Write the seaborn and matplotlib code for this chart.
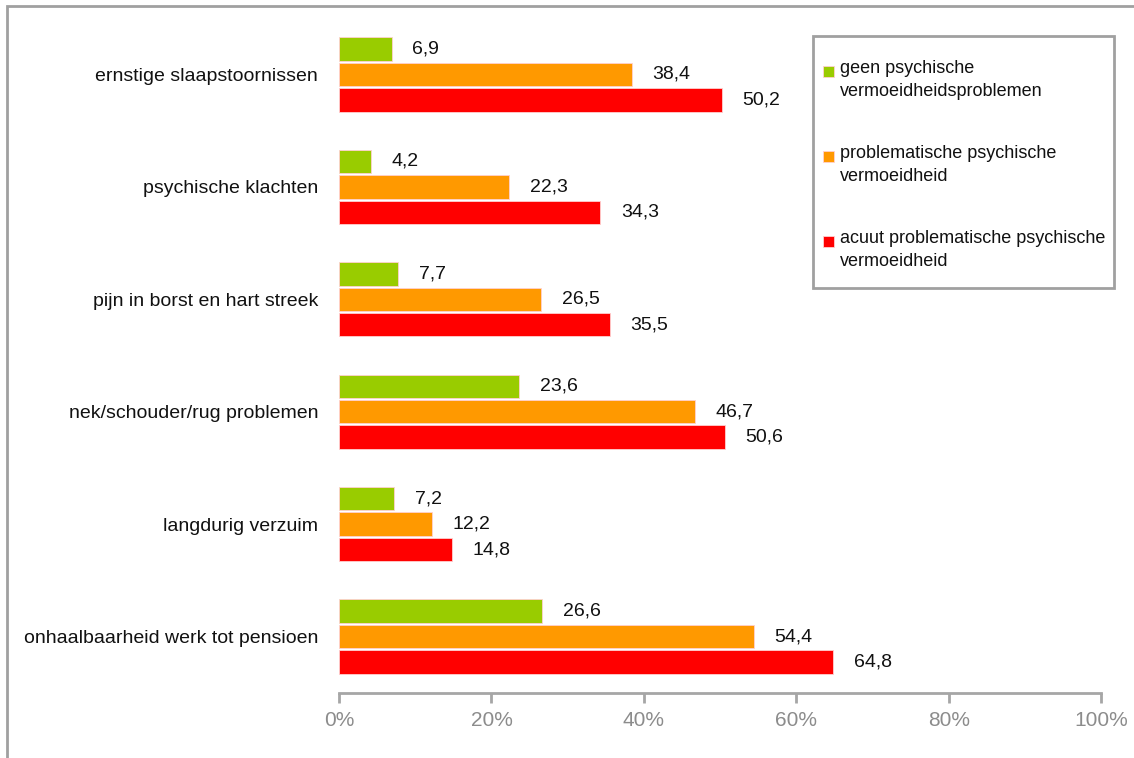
import pandas as pd
import numpy as np
import matplotlib
matplotlib.use("Agg")
import matplotlib.pyplot as plt
from matplotlib.patches import Rectangle
from matplotlib.legend_handler import HandlerPatch
import seaborn as sns

# ----------------------------
# Data
# ----------------------------
categories = [
    "ernstige slaapstoornissen",
    "psychische klachten",
    "pijn in borst en hart streek",
    "nek/schouder/rug problemen",
    "langdurig verzuim",
    "onhaalbaarheid werk tot pensioen",
]
groups = [
    "geen psychische\nvermoeidheidsproblemen",
    "problematische psychische\nvermoeidheid",
    "acuut problematische psychische\nvermoeidheid",
]
geen = [6.9, 4.2, 7.7, 23.6, 7.2, 26.6]
problematisch = [38.4, 22.3, 26.5, 46.7, 12.2, 54.4]
acuut = [50.2, 34.3, 35.5, 50.6, 14.8, 64.8]
colors = ["#99CC00", "#FF9900", "#FF0000"]
x_ticks = [0, 20, 40, 60, 80, 100]

df = pd.DataFrame({
    "categorie": categories * 3,
    "groep": [groups[0]] * 6 + [groups[1]] * 6 + [groups[2]] * 6,
    "waarde": geen + problematisch + acuut,
})

# ----------------------------
# Style
# ----------------------------
sns.set_style("white")
plt.rcParams["font.family"] = ["Liberation Sans Narrow", "Liberation Sans", "DejaVu Sans"]

fig = plt.figure(figsize=(11.34, 7.58), dpi=100)
ax = fig.add_axes([0.299, 0.086, 0.672, 0.89])

sns.barplot(
    data=df, y="categorie", x="waarde", hue="groep",
    order=categories, hue_order=groups, palette=colors,
    orient="h", width=0.68, gap=0.08, saturation=1,
    edgecolor="#ffd0d0", linewidth=0.6, ax=ax,
)

# value labels
for cont in ax.containers:
    ax.bar_label(cont, labels=[f"{v:.1f}".replace(".", ",") for v in cont.datavalues],
                 padding=15, fontsize=14, color="#111111")

ax.set_xlim(0, 100)
ax.set_ylim(5.5, -0.5)
ax.set_xticks(x_ticks)
ax.set_xticklabels([f"{t}%" for t in x_ticks], fontsize=15, color="#8c8c8c")
ax.tick_params(axis="x", direction="out", length=7, width=2, color="#a6a6a6", pad=6, bottom=True)
ax.tick_params(axis="y", length=0, labelsize=14, pad=15, labelcolor="#111111")
ax.set_xlabel("")
ax.set_ylabel("")

for side in ["top", "right", "left"]:
    ax.spines[side].set_visible(False)
ax.spines["bottom"].set_color("#a6a6a6")
ax.spines["bottom"].set_linewidth(2)


# small square legend marker aligned with the first text line
def top_square(legend, orig_handle, xdescent, ydescent, width, height, fontsize):
    s = 0.6 * fontsize
    return Rectangle((-xdescent, -ydescent + height - s - 0.1 * fontsize), s, s)


handles, labels = ax.get_legend_handles_labels()
ax.legend_.remove()
leg = fig.legend(
    handles, labels, loc="upper left", bbox_to_anchor=(823 / 1134, 1 - 60 / 758),
    bbox_transform=fig.transFigure, borderaxespad=0, borderpad=0, fontsize=13,
    frameon=False, handlelength=0.6, handleheight=2.5,
    handletextpad=0.35, labelspacing=2.5,
    handler_map={h: HandlerPatch(patch_func=top_square) for h in handles},
)
for t in leg.get_texts():
    t.set_color("#111111")
    t.set_linespacing(1.45)

# legend frame
fig.patches.append(Rectangle((813 / 1134, 1 - 288 / 758), 301 / 1134, 252 / 758,
                             transform=fig.transFigure, fill=False,
                             edgecolor="#a0a0a0", linewidth=2))

# figure border
fig.patches.append(Rectangle((7 / 1134, -0.02), 1.05, 1 - 6 / 758 + 0.02,
                             transform=fig.transFigure, fill=False,
                             edgecolor="#a0a0a0", linewidth=2))

fig.savefig("out.png", dpi=100)
